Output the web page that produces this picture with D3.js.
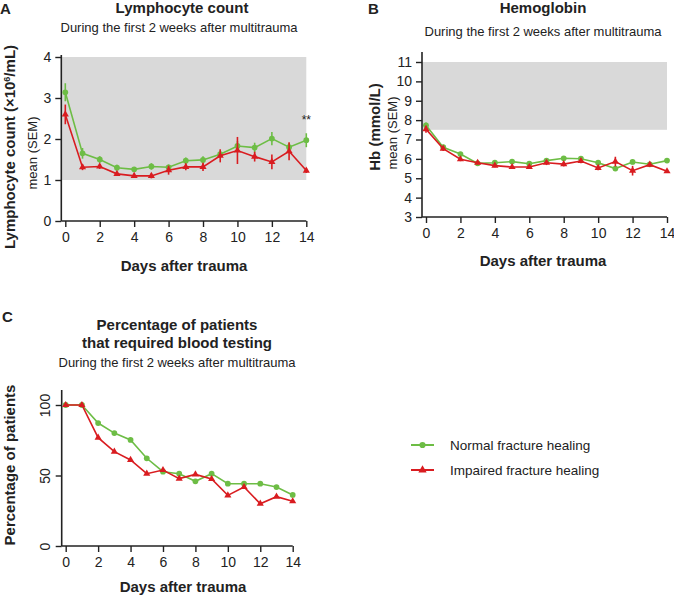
<!DOCTYPE html>
<html>
<head>
<meta charset="utf-8">
<script src="https://cdn.jsdelivr.net/npm/d3@7"></script>
<style>
  body { margin: 0; background: #fff; }
  text { font-family: "Liberation Sans", Arial, sans-serif; fill: #222; }
</style>
</head>
<body>
<div id="chart"></div>
<script>
// days on the x axis, shared by all three panels
const days = d3.range(0, 15);
const xTicks = [0, 2, 4, 6, 8, 10, 12, 14];

// panel A: lymphocyte count, mean and SEM
const lymphNormal = [3.14, 1.65, 1.50, 1.30, 1.26, 1.33, 1.31, 1.47, 1.49, 1.63, 1.83, 1.79, 2.01, 1.80, 1.97];
const lymphNormalSem = [0.22, 0.13, 0.08, 0.07, 0.06, 0.08, 0.07, 0.08, 0.09, 0.09, 0.12, 0.12, 0.16, 0.10, 0.17];
const lymphImpaired = [2.60, 1.31, 1.33, 1.15, 1.10, 1.10, 1.24, 1.32, 1.32, 1.59, 1.72, 1.57, 1.44, 1.70, 1.23];
const lymphImpairedSem = [0.24, 0.07, 0.06, 0.05, 0.05, 0.06, 0.11, 0.08, 0.10, 0.16, 0.33, 0.12, 0.18, 0.22, 0.06];
const lymphTicks = [0, 1, 2, 3, 4];
const lymphRef = [1, 4];

// panel B: hemoglobin, mean and SEM
const hbNormal = [7.73, 6.60, 6.25, 5.77, 5.80, 5.86, 5.75, 5.91, 6.03, 6.01, 5.80, 5.50, 5.84, 5.72, 5.91];
const hbNormalSem = [0.15, 0.10, 0.08, 0.08, 0.07, 0.07, 0.07, 0.08, 0.08, 0.10, 0.10, 0.12, 0.12, 0.12, 0.12];
const hbImpaired = [7.53, 6.53, 5.98, 5.80, 5.65, 5.58, 5.58, 5.80, 5.73, 5.89, 5.53, 5.86, 5.39, 5.70, 5.36];
const hbImpairedSem = [0.18, 0.12, 0.10, 0.08, 0.08, 0.08, 0.08, 0.12, 0.12, 0.12, 0.12, 0.25, 0.25, 0.12, 0.08];
const hbTicks = [3, 4, 5, 6, 7, 8, 9, 10, 11];
const hbRef = [7.5, 11];

// panel C: percentage of patients that were tested
const pctNormal = [100, 100, 87.2, 80.1, 75.2, 62.2, 52.7, 51.3, 45.9, 51.3, 44.2, 44.2, 44.2, 41.8, 36.2];
const pctImpaired = [100, 100, 76.8, 66.9, 61.0, 51.3, 53.9, 47.8, 50.8, 47.5, 35.9, 41.8, 30.0, 35.0, 31.7];
const pctTicks = [0, 50, 100];

const groups = ["Normal fracture healing", "Impaired fracture healing"];
const GREEN = "#6dbd45";
const RED = "#d91c20";
const subtitle = "During the first 2 weeks after multitrauma";

let svg = d3.select("#chart")
  .append("svg")
    .attr("width", 674)
    .attr("height", 597);

// draws axes, lines, markers and error bars for one panel
function drawPanel(p) {
  let g = svg.append("g");

  // grey reference range
  if (p.ref) {
    g.append("rect")
      .attr("x", p.x.range()[0] - 4)
      .attr("y", p.y(p.ref[1]))
      .attr("width", p.x.range()[1] - p.x.range()[0] + 4)
      .attr("height", p.y(p.ref[0]) - p.y(p.ref[1]))
      .style("fill", "#d9d9d9");
  }

  let x0 = p.x.range()[0] - 4;
  let yBottom = p.y.range()[0];

  // y axis
  let yAxis = g.append("g")
    .attr("transform", "translate(" + x0 + ",0)")
    .call(d3.axisLeft(p.y).tickValues(p.yTicks).tickFormat(d3.format("d"))
      .tickSize(6).tickPadding(4).tickSizeOuter(0));
  yAxis.select(".domain").remove();
  yAxis.selectAll("line").style("stroke", "#222").style("stroke-width", 1.4);
  yAxis.selectAll("text").style("font-size", "14px").style("fill", "#222");
  if (p.rotateY) {
    // tick labels in panel C stand upright along the axis
    yAxis.selectAll("text")
      .attr("x", -12)
      .attr("y", 0)
      .attr("dy", "0")
      .attr("transform", "rotate(-90,-12,0)")
      .style("text-anchor", "middle");
  }
  g.append("line")
    .attr("x1", x0).attr("x2", x0)
    .attr("y1", yBottom).attr("y2", p.yTop)
    .style("stroke", "#222").style("stroke-width", 1.6);

  // x axis
  let xAxis = g.append("g")
    .attr("transform", "translate(0," + yBottom + ")")
    .call(d3.axisBottom(p.x).tickValues(xTicks).tickSize(6).tickPadding(5).tickSizeOuter(0));
  xAxis.select(".domain").remove();
  xAxis.selectAll("line").style("stroke", "#222").style("stroke-width", 1.4);
  xAxis.selectAll("text").style("font-size", "14px").style("fill", "#222");
  g.append("line")
    .attr("x1", x0).attr("x2", p.x(14))
    .attr("y1", yBottom).attr("y2", yBottom)
    .style("stroke", "#222").style("stroke-width", 1.6);

  let series = [
    {values: p.normal, sem: p.normalSem, color: GREEN, shape: d3.symbolCircle, size: 26},
    {values: p.impaired, sem: p.impairedSem, color: RED, shape: d3.symbolTriangle, size: 22}
  ];

  series.forEach(s => {
    let line = d3.line()
      .x((d, i) => p.x(days[i]))
      .y(d => p.y(d));

    // error bars
    if (s.sem) {
      g.append("g")
        .selectAll("line")
        .data(s.values)
        .enter()
        .append("line")
          .attr("x1", (d, i) => p.x(days[i]))
          .attr("x2", (d, i) => p.x(days[i]))
          .attr("y1", (d, i) => p.y(d - s.sem[i]))
          .attr("y2", (d, i) => p.y(d + s.sem[i]))
          .style("stroke", s.color)
          .style("stroke-width", 1.6);
    }

    g.append("path")
      .datum(s.values)
      .attr("d", line)
      .style("fill", "none")
      .style("stroke", s.color)
      .style("stroke-width", 1.6);

    g.append("g")
      .selectAll("path")
      .data(s.values)
      .enter()
      .append("path")
        .attr("d", d3.symbol().type(s.shape).size(s.size))
        .attr("transform", (d, i) => "translate(" + p.x(days[i]) + "," + p.y(d) + ")")
        .style("fill", s.color);
  });

  return g;
}

// helper for plain text
function label(x, y, txt, size, weight, anchor, rotate) {
  let t = svg.append("text")
    .attr("x", x)
    .attr("y", y)
    .style("font-size", size + "px")
    .style("font-weight", weight)
    .style("text-anchor", anchor)
    .text(txt);
  if (rotate) t.attr("transform", "rotate(-90," + x + "," + y + ")");
  return t;
}

// panel A
const X_A = d3.scaleLinear().domain([0, 14]).range([65.3, 306.3]);
const Y_A = d3.scaleLinear().domain([0, 4]).range([221, 57]);
drawPanel({x: X_A, y: Y_A, yTicks: lymphTicks, yTop: 55, ref: lymphRef,
  normal: lymphNormal, normalSem: lymphNormalSem, impaired: lymphImpaired, impairedSem: lymphImpairedSem});

label(0, 14, "A", 15, "bold", "start");
label(182, 13, "Lymphocyte count", 15, "bold", "middle");
label(179, 32, subtitle, 13, "normal", "middle");
label(184, 271, "Days after trauma", 15, "bold", "middle");
label(37, 153, "mean (SEM)", 13, "normal", "middle", true);
let yl = label(15, 147, "", 15, "bold", "middle", true);
yl.append("tspan").text("Lymphocyte  count (\u00d710");
yl.append("tspan").attr("dy", -5).style("font-size", "9px").text("6");
yl.append("tspan").attr("dy", 5).text("/mL)");
label(X_A(14), Y_A(2.37), "**", 12, "normal", "middle");

// panel B
const X_B = d3.scaleLinear().domain([0, 14]).range([426, 667]);
const Y_B = d3.scaleLinear().domain([3, 11]).range([217, 62]);
drawPanel({x: X_B, y: Y_B, yTicks: hbTicks, yTop: 52, ref: hbRef,
  normal: hbNormal, normalSem: hbNormalSem, impaired: hbImpaired, impairedSem: hbImpairedSem});

label(368, 14, "B", 15, "bold", "start");
label(543, 13, "Hemoglobin", 15, "bold", "middle");
label(543, 36, subtitle, 13, "normal", "middle");
label(543, 266, "Days after trauma", 15, "bold", "middle");
label(380, 127, "Hb (mmol/L)", 15, "bold", "middle", true);
label(397, 133, "mean (SEM)", 13, "normal", "middle", true);

// panel C
const X_C = d3.scaleLinear().domain([0, 14]).range([65.7, 292.7]);
const Y_C = d3.scaleLinear().domain([0, 100]).range([546, 405]);
drawPanel({x: X_C, y: Y_C, yTicks: pctTicks, yTop: 390, rotateY: true,
  normal: pctNormal, impaired: pctImpaired});

label(2, 322, "C", 15, "bold", "start");
label(177, 330, "Percentage of patients", 15, "bold", "middle");
label(177, 348, "that required blood testing", 15, "bold", "middle");
label(177, 367, subtitle, 13, "normal", "middle");
label(183, 592, "Days after trauma", 15, "bold", "middle");
label(15, 465, "Percentage of patients", 15, "bold", "middle", true);

// legend
let legend = svg.append("g")
  .selectAll("g")
  .data(groups)
  .enter()
  .append("g")
    .attr("transform", (d, i) => "translate(411," + (445 + i * 25) + ")");
legend.append("line")
  .attr("x1", 0).attr("x2", 23)
  .style("stroke", (d, i) => i === 0 ? GREEN : RED)
  .style("stroke-width", 2);
legend.append("path")
  .attr("d", (d, i) => d3.symbol().type(i === 0 ? d3.symbolCircle : d3.symbolTriangle).size(30)())
  .attr("transform", "translate(11.5,0)")
  .style("fill", (d, i) => i === 0 ? GREEN : RED);
legend.append("text")
  .attr("x", 39)
  .attr("dy", "0.35em")
  .style("font-size", "13.5px")
  .text(d => d);
</script>
</body>
</html>
